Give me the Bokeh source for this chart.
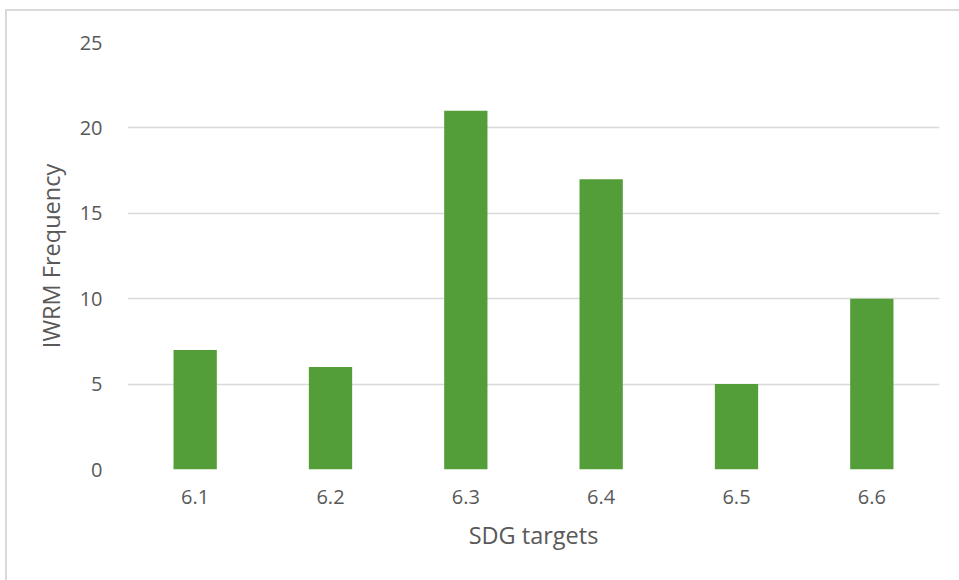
from bokeh.plotting import figure
from bokeh.models import FactorRange, SingleIntervalTicker, ColumnDataSource
from bokeh.embed import file_html
from bokeh.resources import INLINE

# SDG 6 targets and how often IWRM is linked to each
targets = ["6.1", "6.2", "6.3", "6.4", "6.5", "6.6"]
frequency = [7, 6, 21, 17, 5, 10]

y_max = 25
y_step = 5

FONT = "Open Sans"
TEXT = "#595959"
GRID = "#D9D9D9"
BAR = "#549E39"

source = ColumnDataSource(dict(target=targets, freq=frequency))

p = figure(
    x_range=FactorRange(*targets, range_padding=0),
    y_range=(0, y_max),
    width=960, height=575,
    output_backend="svg", toolbar_location=None,
    min_border_left=120, min_border_right=28,
    min_border_top=31, min_border_bottom=117,
    background_fill_color="white", border_fill_color="white",
    outline_line_color=None,
)
p.margin = (11, 0, 0, 7)
p.styles = {"outline": f"2px solid {GRID}"}

p.vbar(x="target", top="freq", width=0.32, source=source,
       fill_color=BAR, line_color=None)

# Axes
p.yaxis.ticker = SingleIntervalTicker(interval=y_step)
for ax in (p.xaxis[0], p.yaxis[0]):
    ax.axis_line_color = None
    ax.major_tick_line_color = None
    ax.minor_tick_line_color = None
    ax.major_label_text_font = FONT
    ax.major_label_text_font_size = "20px"
    ax.major_label_text_color = TEXT
    ax.axis_label_text_font = FONT
    ax.axis_label_text_font_size = "23.5px"
    ax.axis_label_text_font_style = "normal"
    ax.axis_label_text_color = TEXT

p.xaxis.axis_label = "SDG targets"
p.xaxis.major_label_standoff = 14
p.xaxis.axis_label_standoff = 12
p.yaxis.axis_label = "IWRM Frequency"
p.yaxis.major_label_standoff = 19
p.yaxis.axis_label_standoff = 10

p.xgrid.grid_line_color = None
p.ygrid.grid_line_color = GRID
p.ygrid.grid_line_width = 1.5

open("out.html", "w").write(file_html(p, INLINE))
